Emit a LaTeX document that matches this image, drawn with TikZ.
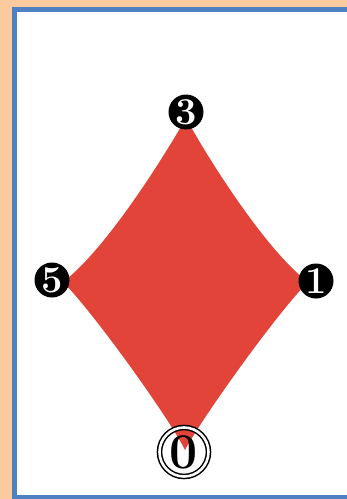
\documentclass[tikz,border=0pt]{standalone}
\usepackage{tikz}
\usetikzlibrary{positioning}
\definecolor{mpeach}{HTML}{FBCA9E}
\definecolor{mframe}{HTML}{4F81C2}
\definecolor{mred}{HTML}{E3443A}

\begin{document}
\begin{tikzpicture}[
    x=1pt, y=-1pt,
    vert/.style={circle, fill=black, text=white, inner sep=0pt, minimum size=35pt,
                 font=\fontsize{38}{38}\selectfont\bfseries},
    root/.style={circle, draw=black, double=white, double distance=2.6pt, line width=1.5pt,
                 inner sep=0pt, minimum size=49pt, font=\fontsize{50}{50}\selectfont\bfseries},
  ]
  \useasboundingbox (0,0) rectangle (347,499);
  \fill[mpeach] (0,0) rectangle (347,499);
  \draw[mframe, line width=5pt, fill=white] (14.5,9.5) rectangle (380,497);

  % tips of the curved diamond
  \coordinate (tp) at (186,118);
  \coordinate (rt) at (308,282);
  \coordinate (bt) at (185,450);
  \coordinate (lf) at (63,282);

  \fill[mred] (tp) .. controls (208.7,159.8) and (266.6,251) .. (rt)
    .. controls (277.2,312.8) and (201.1,419.2) .. (bt)
    .. controls (169.9,419.2) and (93.8,312.8) .. (lf)
    .. controls (104.4,251) and (162.3,159.8) .. (tp) -- cycle;

  \node[vert] (n3) at (186,112) {3};
  \node[vert] (n1) at (316,281) {1};
  \node[vert] (n5) at (52,280) {5};
  \node[root] (n0) at (184,452) {0};

\end{tikzpicture}
\end{document}
